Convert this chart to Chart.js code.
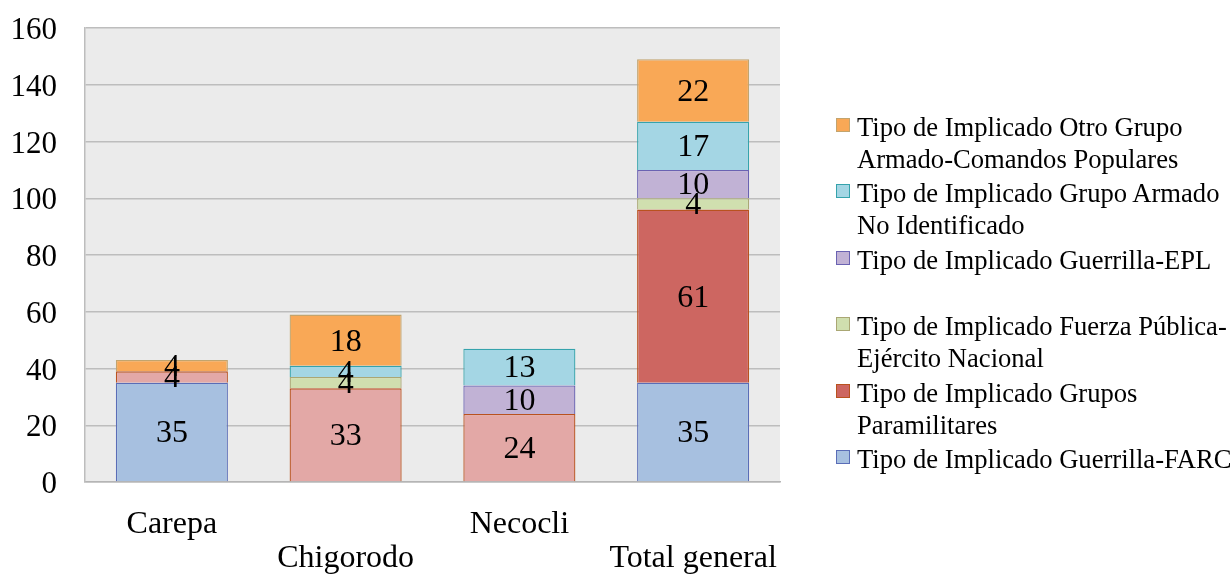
<!DOCTYPE html>
<html>
<head>
<meta charset="utf-8">
<script src="https://cdn.jsdelivr.net/npm/chart.js@4.4.0/dist/chart.umd.min.js"></script>
<style>
  html, body { margin: 0; padding: 0; background: #fff; }
  #wrap { position: relative; width: 1232px; height: 574px; }
  #legend { position: absolute; left: 836px; top: 111px; font-family: 'Liberation Serif', 'Times New Roman', serif; font-size: 26.6px; color: #000; }
  .item { position: relative; height: 66.4px; padding-left: 21px; line-height: 32px; white-space: nowrap; }
  .box { position: absolute; left: 0; top: 7px; width: 12px; height: 12px; border: 1px solid; }
</style>
</head>
<body>
<div id="wrap">
  <canvas id="chart" width="1232" height="574"></canvas>
  <div id="legend"></div>
</div>
<script>
const categories = [['Carepa'], ['', 'Chigorodo'], ['Necocli'], ['', 'Total general']];
const yTicks = [0, 20, 40, 60, 80, 100, 120, 140, 160];

const farc = [35, null, null, 35];
const paramilitares = [4, 33, 24, 61];
const fuerzaPublica = [null, 4, null, 4];
const epl = [null, null, 10, 10];
const noIdentificado = [null, 4, 13, 17];
const otroGrupo = [4, 18, null, 22];

const seriesNames = [
    ['Tipo de Implicado Guerrilla-FARC'],
    ['Tipo de Implicado Grupos', 'Paramilitares'],
    ['Tipo de Implicado Fuerza Pública-', 'Ejército Nacional'],
    ['Tipo de Implicado Guerrilla-EPL'],
    ['Tipo de Implicado Grupo Armado', 'No Identificado'],
    ['Tipo de Implicado Otro Grupo', 'Armado-Comandos Populares']
];

const FONT = "'Liberation Serif', 'Times New Roman', serif";

const datasets = [
    { data: farc, backgroundColor: '#a7c0e0', borderColor: '#5a6db7' },
    { data: paramilitares, backgroundColor: ['#e3a8a6', '#e3a8a6', '#e3a8a6', '#cd6661'], borderColor: '#b9521f', legendColor: '#cd6661' },
    { data: fuerzaPublica, backgroundColor: '#d0dfaf', borderColor: '#aaa774' },
    { data: epl, backgroundColor: '#c1b2d5', borderColor: '#6a62b2' },
    { data: noIdentificado, backgroundColor: '#a4d6e4', borderColor: '#35a3ac' },
    { data: otroGrupo, backgroundColor: '#f9a856', borderColor: '#c2a46e' }
].map((d, i) => Object.assign({
    label: seriesNames[i].join(' '),
    borderWidth: 1.3,
    barPercentage: 0.645,
    categoryPercentage: 1
}, d));

// grey plot area behind the bars
const plotBg = {
    id: 'plotBg',
    beforeDraw(chart) {
        const a = chart.chartArea, ctx = chart.ctx;
        ctx.save();
        ctx.fillStyle = '#ebebeb';
        ctx.fillRect(a.left, a.top, a.right - a.left, a.bottom - a.top);
        ctx.restore();
    }
};

// value in the middle of each segment
const segLabels = {
    id: 'segLabels',
    afterDatasetsDraw(chart) {
        const ctx = chart.ctx;
        ctx.save();
        ctx.font = '32px ' + FONT;
        ctx.fillStyle = '#000';
        ctx.textAlign = 'center';
        ctx.textBaseline = 'middle';
        chart.data.datasets.forEach((ds, i) => {
            chart.getDatasetMeta(i).data.forEach((bar, j) => {
                const v = ds.data[j];
                if (v == null) return;
                ctx.fillText(String(v), bar.x, (bar.y + bar.base) / 2 + 2);
            });
        });
        ctx.restore();
    }
};

new Chart(document.getElementById('chart'), {
    type: 'bar',
    data: { labels: categories, datasets },
    options: {
        responsive: false,
        animation: false,
        layout: { padding: { top: 28, right: 452, left: 0, bottom: 0 } },
        plugins: { legend: { display: false }, tooltip: { enabled: false } },
        scales: {
            x: {
                stacked: true,
                grid: { display: false, drawTicks: false },
                border: { display: true, color: '#b5b5b5', width: 1.5 },
                ticks: { color: '#000', padding: 25, maxRotation: 0, autoSkip: false,
                         font: { family: FONT, size: 32, lineHeight: 1.07 } },
                afterFit(s) { s.height = 92; s.paddingLeft = 0; s.paddingRight = 0; }
            },
            y: {
                stacked: true,
                min: 0, max: 160,
                afterBuildTicks(s) { s.ticks = yTicks.map(v => ({ value: v })); },
                grid: { color: '#bdbdbd', lineWidth: 1.5, drawTicks: false },
                border: { display: true, color: '#bdbdbd', width: 1.5 },
                ticks: { color: '#000', padding: 28, labelOffset: 3, font: { family: FONT, size: 31 } },
                afterFit(s) { s.width = 85; s.paddingTop = 0; s.paddingBottom = 0; }
            }
        }
    },
    plugins: [plotBg, segLabels]
});

// legend, top entry is the last series
const legend = document.getElementById('legend');
datasets.slice().reverse().forEach((ds, k) => {
    const i = datasets.length - 1 - k;
    const item = document.createElement('div');
    item.className = 'item';
    const box = document.createElement('span');
    box.className = 'box';
    box.style.background = ds.legendColor || ds.backgroundColor;
    box.style.borderColor = ds.borderColor;
    item.appendChild(box);
    item.insertAdjacentHTML('beforeend', seriesNames[i].join('<br>'));
    legend.appendChild(item);
});
</script>
</body>
</html>
